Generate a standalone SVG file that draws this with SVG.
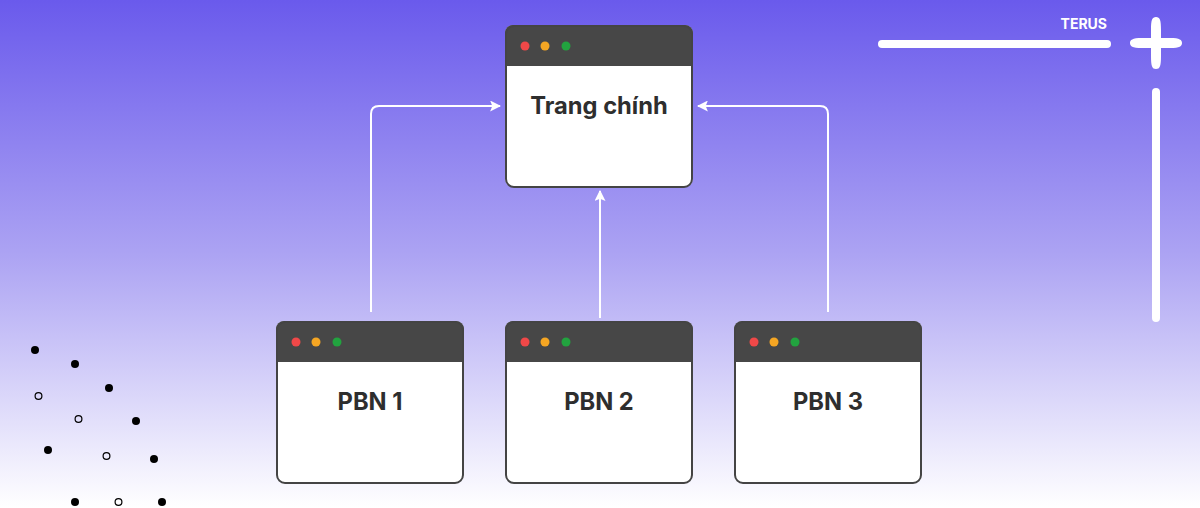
<svg xmlns="http://www.w3.org/2000/svg" width="1200" height="508" viewBox="0 0 1200 508">
<defs>
<linearGradient id="bg" x1="0" y1="0" x2="0" y2="1">
<stop offset="0" stop-color="#6a5aec"/>
<stop offset="0.5" stop-color="#aca3f3"/>
<stop offset="1" stop-color="#ffffff"/>
</linearGradient>
<marker id="arr" viewBox="0 0 10 10" refX="9" refY="5" markerWidth="11" markerHeight="11" markerUnits="userSpaceOnUse" orient="auto">
<path d="M0,0 L10,5 L0,10 L2,5 Z" fill="#ffffff"/>
</marker>
<clipPath id="cw"><rect x="0" y="0" width="188" height="162" rx="8"/></clipPath>
</defs>
<style>
.win{fill:#ffffff;stroke:#444444;stroke-width:2}
.hdr{fill:#474747}
.r{fill:#f04848}.o{fill:#f5a623}.g{fill:#22a33f}
.lbl{font-family:Inter,"Liberation Sans",sans-serif;font-weight:700;font-size:23.7px;fill:#2e2e2e;text-anchor:middle}
.conn{fill:none;stroke:#ffffff;stroke-width:2;marker-end:url(#arr)}
.dot{fill:#000000}
.odot{fill:none;stroke:#000000;stroke-width:1.2}
</style>
<rect x="0" y="0" width="1200" height="508" fill="url(#bg)"/>

<g id="decor-top-right">
<line x1="882" y1="44" x2="1107" y2="44" stroke="#ffffff" stroke-width="8" stroke-linecap="round"/>
<text x="1107" y="29" font-family="Inter,'Liberation Sans',sans-serif" font-weight="700" font-size="14" fill="#ffffff" text-anchor="end">TERUS</text>
<path d="M1156,17 C1160,17 1161,20 1161,30 L1161,38 L1170,38 C1180,38 1182,40 1182,43 C1182,46 1180,48 1170,48 L1161,48 L1161,56 C1161,66 1160,69 1156,69 C1152,69 1151,66 1151,56 L1151,48 L1142,48 C1132,48 1130,46 1130,43 C1130,40 1132,38 1142,38 L1151,38 L1151,30 C1151,20 1152,17 1156,17 Z" fill="#ffffff"/>
<line x1="1156" y1="92" x2="1156" y2="318" stroke="#ffffff" stroke-width="8" stroke-linecap="round"/>
</g>

<g id="decor-dots">
<circle class="dot" cx="35" cy="350" r="4"/>
<circle class="dot" cx="75" cy="364" r="4"/>
<circle class="dot" cx="109" cy="388" r="4"/>
<circle class="dot" cx="136" cy="421" r="4"/>
<circle class="dot" cx="48" cy="450" r="4"/>
<circle class="dot" cx="154" cy="459" r="4"/>
<circle class="dot" cx="75" cy="502" r="4"/>
<circle class="dot" cx="162" cy="502" r="4"/>
<circle class="odot" cx="38.5" cy="396" r="3.4"/>
<circle class="odot" cx="78.5" cy="419" r="3.4"/>
<circle class="odot" cx="106.5" cy="456" r="3.4"/>
<circle class="odot" cx="118.5" cy="502" r="3.4"/>
</g>

<g id="connectors">
<path class="conn" d="M371,312 L371,114 Q371,106 379,106 L500,106"/>
<path class="conn" d="M600,318 L600,191"/>
<path class="conn" d="M828,312 L828,114 Q828,106 820,106 L698,106"/>
</g>

<g id="node-main" transform="translate(505,25)">
<g clip-path="url(#cw)"><rect class="win" x="0" y="0" width="188" height="162" rx="8" style="stroke:none"/><rect class="hdr" x="0" y="0" width="188" height="41"/></g>
<rect class="win" x="1" y="1" width="186" height="161" rx="8" style="fill:none"/>
<circle class="r" cx="20" cy="21" r="4.5"/><circle class="o" cx="40" cy="21" r="4.5"/><circle class="g" cx="61" cy="21" r="4.5"/>
<text class="lbl" x="94" y="89">Trang chính</text>
</g>

<g id="node-pbn1" transform="translate(276,321)">
<g clip-path="url(#cw)"><rect class="win" x="0" y="0" width="188" height="162" rx="8" style="stroke:none"/><rect class="hdr" x="0" y="0" width="188" height="41"/></g>
<rect class="win" x="1" y="1" width="186" height="161" rx="8" style="fill:none"/>
<circle class="r" cx="20" cy="21" r="4.5"/><circle class="o" cx="40" cy="21" r="4.5"/><circle class="g" cx="61" cy="21" r="4.5"/>
<text class="lbl" x="94" y="89">PBN 1</text>
</g>

<g id="node-pbn2" transform="translate(505,321)">
<g clip-path="url(#cw)"><rect class="win" x="0" y="0" width="188" height="162" rx="8" style="stroke:none"/><rect class="hdr" x="0" y="0" width="188" height="41"/></g>
<rect class="win" x="1" y="1" width="186" height="161" rx="8" style="fill:none"/>
<circle class="r" cx="20" cy="21" r="4.5"/><circle class="o" cx="40" cy="21" r="4.5"/><circle class="g" cx="61" cy="21" r="4.5"/>
<text class="lbl" x="94" y="89">PBN 2</text>
</g>

<g id="node-pbn3" transform="translate(734,321)">
<g clip-path="url(#cw)"><rect class="win" x="0" y="0" width="188" height="162" rx="8" style="stroke:none"/><rect class="hdr" x="0" y="0" width="188" height="41"/></g>
<rect class="win" x="1" y="1" width="186" height="161" rx="8" style="fill:none"/>
<circle class="r" cx="20" cy="21" r="4.5"/><circle class="o" cx="40" cy="21" r="4.5"/><circle class="g" cx="61" cy="21" r="4.5"/>
<text class="lbl" x="94" y="89">PBN 3</text>
</g>
</svg>
